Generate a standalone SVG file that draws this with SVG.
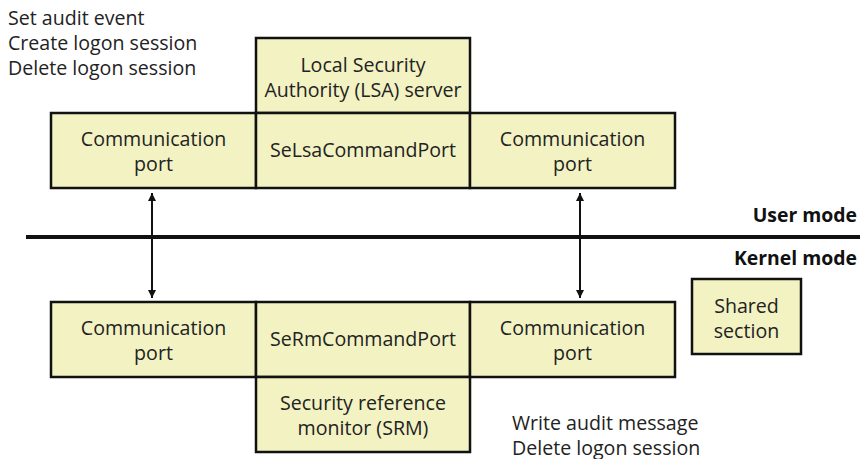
<svg xmlns="http://www.w3.org/2000/svg" width="860" height="459" viewBox="0 0 860 459">
<style>
.box{fill:#f2f2c2;stroke:#111;stroke-width:2.5}
.t{font-family:"Open Sans","Noto Sans",sans-serif;font-size:19.6px;fill:#222}
.c{text-anchor:middle}
.b{font-family:"Open Sans","Noto Sans",sans-serif;font-size:19.4px;font-weight:bold;fill:#111;text-anchor:end}
.ln{stroke:#111;stroke-width:2;fill:none}
</style>
<defs>
<marker id="ah" viewBox="0 0 10 10" refX="10" refY="5" markerWidth="4" markerHeight="4" orient="auto-start-reverse" markerUnits="strokeWidth">
<path d="M0,0 L10,5 L0,10 z" fill="#111"/>
</marker>
</defs>
<rect width="860" height="459" fill="#fff"/>
<g id="labels">
<text class="t" x="8" y="25">Set audit event</text>
<text class="t" x="8" y="50">Create logon session</text>
<text class="t" x="8" y="75">Delete logon session</text>
<text class="t" x="512" y="430">Write audit message</text>
<text class="t" x="512" y="455">Delete logon session</text>
<text class="b" x="857" y="222">User mode</text>
<text class="b" x="857" y="265">Kernel mode</text>
</g>
<g id="divider">
<line x1="26" y1="237" x2="860" y2="237" stroke="#111" stroke-width="4"/>
</g>
<g id="lsa">
<rect class="box" x="256" y="38" width="214" height="75"/>
<text class="t c" x="363" y="72">Local Security</text>
<text class="t c" x="363" y="97">Authority (LSA) server</text>
</g>
<g id="lsa-comm-left">
<rect class="box" x="51" y="113" width="205" height="75"/>
<text class="t c" x="153.5" y="146">Communication</text>
<text class="t c" x="153.5" y="171">port</text>
</g>
<g id="selsa">
<rect class="box" x="256" y="113" width="214" height="75"/>
<text class="t c" x="363" y="157">SeLsaCommandPort</text>
</g>
<g id="lsa-comm-right">
<rect class="box" x="470" y="113" width="205" height="75"/>
<text class="t c" x="572.5" y="146">Communication</text>
<text class="t c" x="572.5" y="171">port</text>
</g>
<g id="srm-comm-left">
<rect class="box" x="51" y="302" width="205" height="75"/>
<text class="t c" x="153.5" y="335">Communication</text>
<text class="t c" x="153.5" y="360">port</text>
</g>
<g id="sermport">
<rect class="box" x="256" y="302" width="214" height="75"/>
<text class="t c" x="363" y="346">SeRmCommandPort</text>
</g>
<g id="srm-comm-right">
<rect class="box" x="470" y="302" width="205" height="75"/>
<text class="t c" x="572.5" y="335">Communication</text>
<text class="t c" x="572.5" y="360">port</text>
</g>
<g id="srm">
<rect class="box" x="256" y="377" width="214" height="75"/>
<text class="t c" x="363" y="410">Security reference</text>
<text class="t c" x="363" y="435">monitor (SRM)</text>
</g>
<g id="shared">
<rect class="box" x="692" y="279" width="109" height="75"/>
<text class="t c" x="746.5" y="313">Shared</text>
<text class="t c" x="746.5" y="338">section</text>
</g>
<g id="connectors">
<line class="ln" x1="152" y1="193" x2="152" y2="298" marker-start="url(#ah)" marker-end="url(#ah)"/>
<line class="ln" x1="580" y1="193" x2="580" y2="298" marker-start="url(#ah)" marker-end="url(#ah)"/>
</g>
</svg>
